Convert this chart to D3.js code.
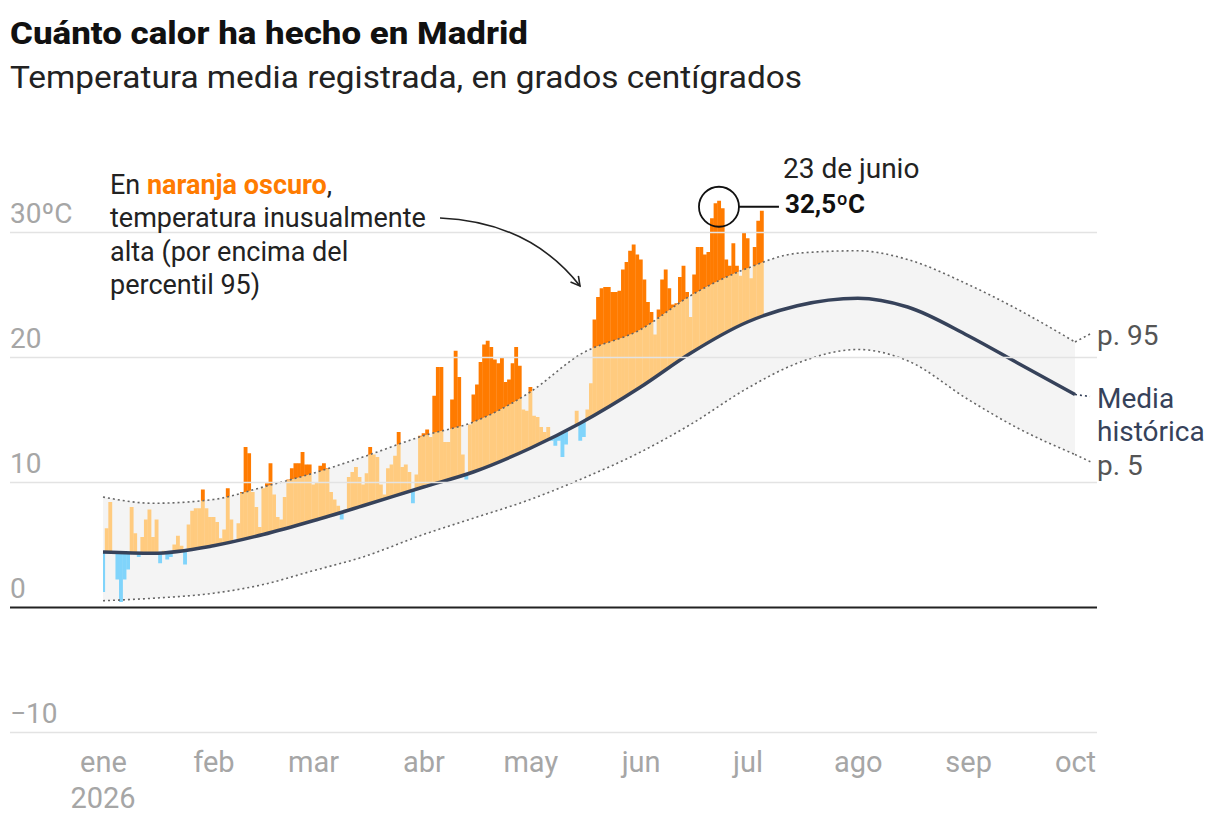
<!DOCTYPE html>
<html>
<head>
<meta charset="utf-8">
<script src="https://cdn.jsdelivr.net/npm/d3@7"></script>
<style>
  body { margin: 0; background: #fff; }
  svg text { font-family: Roboto, "Noto Sans", sans-serif; }
</style>
</head>
<body>
<svg id="chart" width="1220" height="820"></svg>
<script>
// daily mean temperature, starting on 1 Jan 2026
const firstDay = "2026-01-01";
const dailyTemp = [
  1.2, 6.3, 8.4, 4.3, 2.2, 0.4, 2.2, 3.0, 8.0, 5.9,
  4.0, 5.6, 7.0, 7.8, 5.6, 7.0, 3.5, 4.5, 3.8, 4.0,
  5.0, 5.7, 4.9, 3.4, 6.6, 7.7, 7.9, 7.9, 9.4, 7.9,
  7.2, 7.2, 6.8, 5.5, 6.2, 9.5, 7.0, 5.3, 6.7, 9.2,
  12.8, 12.3, 9.2, 8.0, 6.4, 9.5, 9.9, 11.5, 9.0, 7.2,
  7.0, 8.8, 10.2, 11.1, 11.5, 11.5, 12.4, 11.4, 11.4, 9.8,
  10.0, 11.3, 11.5, 11.1, 9.2, 8.6, 8.1, 7.0, 7.8, 10.4,
  10.8, 11.2, 10.4, 9.8, 10.7, 12.8, 12.2, 12.0, 9.8, 9.0,
  11.1, 11.4, 12.1, 14.0, 11.2, 11.4, 10.8, 8.3, 10.6, 13.7,
  13.9, 14.2, 13.6, 16.9, 19.2, 19.2, 13.2, 13.2, 16.6, 20.5,
  18.4, 12.2, 10.2, 14.6, 17.0, 17.8, 19.6, 21.0, 21.3, 20.8,
  19.8, 19.5, 20.0, 18.0, 18.2, 19.5, 20.8, 19.3, 15.8, 15.7,
  17.6, 15.3, 15.2, 14.4, 14.0, 14.4, 13.3, 12.9, 13.3, 12.0,
  13.0, 14.3, 14.5, 15.7, 13.3, 13.6, 15.8, 17.9, 23.0, 24.8,
  25.5, 25.6, 25.6, 25.2, 25.2, 25.3, 27.0, 27.6, 28.5, 29.0,
  28.2, 27.8, 26.2, 24.4, 23.6, 21.8, 23.8, 26.2, 27.0, 25.5,
  24.2, 24.3, 26.4, 27.3, 25.2, 23.2, 26.6, 28.8, 28.8, 28.2,
  28.4, 31.1, 32.3, 32.5, 31.9, 27.8, 27.3, 29.1, 27.3, 26.5,
  30.0, 29.5, 26.3, 28.8, 30.9, 31.7
];

// historical reference (1st and 15th of each month)
const histDates = ["2026-01-01", "2026-01-15", "2026-02-01", "2026-02-15", "2026-03-01", "2026-03-15",
  "2026-04-01", "2026-04-15", "2026-05-01", "2026-05-15", "2026-06-01", "2026-06-15", "2026-07-01",
  "2026-07-15", "2026-08-01", "2026-08-15", "2026-09-01", "2026-09-15", "2026-10-01"];
const histMean = [4.4, 4.3, 4.9, 5.8, 6.9, 8.1, 9.6, 10.8, 12.7, 14.7, 17.6, 20.3, 22.8, 24.1, 24.7, 24.0, 21.7, 19.5, 17.0];
const histP95 = [8.8, 8.3, 8.6, 9.6, 10.7, 12.0, 13.7, 14.8, 17.2, 20.2, 22.2, 24.9, 27.1, 28.3, 28.5, 27.8, 25.8, 23.8, 21.2];
const histP5 = [0.5, 0.7, 1.1, 1.8, 2.9, 4.0, 5.8, 7.1, 8.6, 10.2, 12.4, 14.6, 17.5, 19.5, 20.6, 19.7, 16.6, 14.3, 12.2];

const yTicks = [-10, 0, 10, 20, 30];
const monthLabels = ["ene", "feb", "mar", "abr", "may", "jun", "jul", "ago", "sep", "oct"];

const parse = d3.utcParse("%Y-%m-%d");
const start = parse(firstDay);
const days = dailyTemp.map((v, i) => ({ date: d3.utcDay.offset(start, i), v: v }));
const hist = histDates.map((d, i) => ({ date: parse(d), mean: histMean[i], p95: histP95[i], p5: histP5[i] }));

const svg = d3.select("#chart");

const x = d3.scaleUtc()
  .domain([parse("2026-01-01"), parse("2026-10-01")])
  .range([103, 1075]);
const y = d3.scaleLinear().domain([-10, 30]).range([732, 232]);

const curve = d3.curveMonotoneX;
const clipTop = 100, clipBottom = 760;
const grey = "#a6a6a6";

// title
svg.append("text").attr("x", 10).attr("y", 44)
  .attr("font-size", 32).attr("font-weight", 800).attr("fill", "#111")
  .attr("textLength", 518).attr("lengthAdjust", "spacingAndGlyphs")
  .text("Cuánto calor ha hecho en Madrid");
svg.append("text").attr("x", 10).attr("y", 88)
  .attr("font-size", 32).attr("fill", "#222")
  .attr("textLength", 792).attr("lengthAdjust", "spacingAndGlyphs")
  .text("Temperatura media registrada, en grados centígrados");

// gridlines + y labels
const yAxis = svg.append("g")
  .attr("transform", "translate(10,0)")
  .call(d3.axisRight(y).tickValues(yTicks).tickSize(1087).tickFormat(d => d === 30 ? "30ºC" : (d < 0 ? "\u2212" + Math.abs(d) : d)));
yAxis.select(".domain").remove();
yAxis.selectAll(".tick line").attr("stroke", d => d === 0 ? "#222" : "#e3e3e3").attr("stroke-width", d => d === 0 ? 2 : 1.5);
yAxis.selectAll(".tick text")
  .attr("x", 0).attr("dy", -10).attr("text-anchor", "start")
  .attr("font-size", 28).attr("fill", grey)
  .style("font-family", "Roboto, sans-serif");

// historical band
const plot = svg.append("g");
plot.append("path").datum(hist)
  .attr("fill", "#f4f4f4")
  .attr("d", d3.area().curve(curve).x(d => x(d.date)).y0(d => y(d.p5)).y1(d => y(d.p95)));

// clip regions
const defs = svg.append("defs");
defs.append("clipPath").attr("id", "above95").append("path").datum(hist)
  .attr("d", d3.area().curve(curve).x(d => x(d.date)).y0(clipTop).y1(d => y(d.p95)));
defs.append("clipPath").attr("id", "meanTo95").append("path").datum(hist)
  .attr("d", d3.area().curve(curve).x(d => x(d.date)).y0(d => y(d.mean)).y1(d => y(d.p95)));
defs.append("clipPath").attr("id", "belowMean").append("path").datum(hist)
  .attr("d", d3.area().curve(curve).x(d => x(d.date)).y0(d => y(d.mean)).y1(clipBottom));

const bw = x(d3.utcDay.offset(start, 1)) - x(start);

function bars(id, color, upward) {
  plot.append("g").attr("clip-path", "url(#" + id + ")")
    .selectAll("rect").data(days).join("rect")
    .attr("x", d => x(d.date) - bw / 2)
    .attr("width", bw + 0.3)
    .attr("y", d => upward ? clipTop : y(d.v))
    .attr("height", d => upward ? y(d.v) - clipTop : clipBottom - y(d.v))
    .attr("fill", color);
}
bars("meanTo95", "#ffcb7f", false);
bars("above95", "#ff7b00", false);
bars("belowMean", "#80d4fb", true);

// percentile lines
["p95", "p5"].forEach(k => {
  plot.append("path").datum(hist)
    .attr("fill", "none").attr("stroke", "#666").attr("stroke-width", 1.6)
    .attr("stroke-dasharray", "2,3")
    .attr("d", d3.line().curve(curve).x(d => x(d.date)).y(d => y(d[k])));
});
// mean line
plot.append("path").datum(hist)
  .attr("fill", "none").attr("stroke", "#36425a").attr("stroke-width", 3.5)
  .attr("d", d3.line().curve(curve).x(d => x(d.date)).y(d => y(d.mean)));

// zero line on top
yAxis.raise();

// x axis
const monthTicks = d3.utcMonth.range(parse("2026-01-01"), parse("2026-10-02"));
const xAxis = svg.append("g")
  .attr("transform", "translate(0,772)")
  .call(d3.axisBottom(x).tickValues(monthTicks).tickSize(0).tickFormat((d, i) => monthLabels[i]));
xAxis.select(".domain").remove();
xAxis.selectAll(".tick text").attr("dy", 0).attr("y", 0)
  .attr("font-size", 29).attr("fill", grey)
  .style("font-family", "Roboto, sans-serif");
svg.append("text").attr("x", x(monthTicks[0])).attr("y", 808)
  .attr("text-anchor", "middle").attr("font-size", 29).attr("fill", grey).text("2026");

// right labels
const last = hist[hist.length - 1];
const xe = x(last.date);
svg.append("path").attr("d", `M${xe},${y(last.p95)}L${xe + 17},${y(last.p95) - 9}`)
  .attr("stroke", "#666").attr("stroke-width", 1.6).attr("stroke-dasharray", "2,3");
svg.append("path").attr("d", `M${xe},${y(last.p5)}L${xe + 17},${y(last.p5) + 8}`)
  .attr("stroke", "#666").attr("stroke-width", 1.6).attr("stroke-dasharray", "2,3");
svg.append("path").attr("d", `M${xe},${y(last.mean)}L${xe + 15},${y(last.mean) + 2}`)
  .attr("stroke", "#36425a").attr("stroke-width", 1.6).attr("stroke-dasharray", "2,3");
svg.append("text").attr("x", 1097).attr("y", 345).attr("font-size", 28).attr("fill", "#555").text("p. 95");
svg.append("text").attr("x", 1097).attr("y", 408).attr("font-size", 28).attr("fill", "#36425a").text("Media");
svg.append("text").attr("x", 1097).attr("y", 441).attr("font-size", 28).attr("fill", "#36425a").text("histórica");
svg.append("text").attr("x", 1097).attr("y", 475).attr("font-size", 28).attr("fill", "#555").text("p. 5");

// annotation: dark orange meaning
const note = svg.append("text").attr("x", 110).attr("font-size", 27).attr("fill", "#222");
const l1 = note.append("tspan").attr("x", 110).attr("y", 194);
l1.append("tspan").text("En ");
l1.append("tspan").attr("font-weight", 700).attr("fill", "#ff7b00").text("naranja oscuro");
l1.append("tspan").text(",");
note.append("tspan").attr("x", 110).attr("y", 227).text("temperatura inusualmente");
note.append("tspan").attr("x", 110).attr("y", 261).text("alta (por encima del");
note.append("tspan").attr("x", 110).attr("y", 294).text("percentil 95)");

defs.append("marker").attr("id", "arrow").attr("viewBox", "0 0 12 12")
  .attr("refX", 10).attr("refY", 6).attr("markerWidth", 12).attr("markerHeight", 12)
  .attr("markerUnits", "userSpaceOnUse").attr("orient", "auto")
  .append("path").attr("d", "M1,1L10,6L1,11").attr("fill", "none").attr("stroke", "#222").attr("stroke-width", 1.6);
svg.append("path").attr("d", "M440,218 Q530,222 580,286")
  .attr("fill", "none").attr("stroke", "#222").attr("stroke-width", 1.6)
  .attr("marker-end", "url(#arrow)");

// peak annotation
const peak = days.reduce((a, b) => (b.v > a.v ? b : a));
const px = x(peak.date), py = y(peak.v) + 6;
svg.append("circle").attr("cx", px).attr("cy", py).attr("r", 20)
  .attr("fill", "none").attr("stroke", "#111").attr("stroke-width", 1.8);
svg.append("line").attr("x1", px + 20).attr("x2", px + 60).attr("y1", py).attr("y2", py)
  .attr("stroke", "#111").attr("stroke-width", 2);
svg.append("text").attr("x", 783).attr("y", 178).attr("font-size", 28).attr("fill", "#222").text("23 de junio");
svg.append("text").attr("x", 785).attr("y", 213).attr("font-size", 26).attr("font-weight", 700).attr("fill", "#111")
  .text(d3.format(".1f")(peak.v).replace(".", ",") + "ºC");
</script>
</body>
</html>
